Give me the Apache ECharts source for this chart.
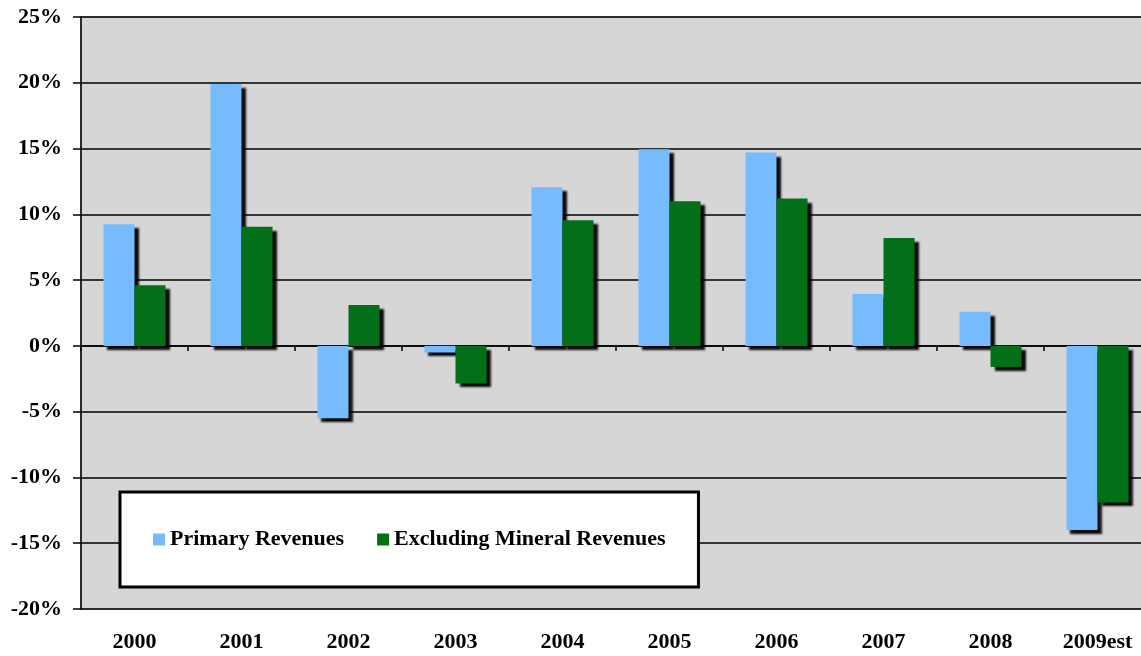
<!DOCTYPE html>
<html>
<head>
<meta charset="utf-8">
<script src="https://cdn.jsdelivr.net/npm/echarts@6/dist/echarts.min.js"></script>
<style>
html,body{margin:0;padding:0;background:#fff;}
#chart{width:1141px;height:656px;}
</style>
</head>
<body>
<div id="chart"></div>
<script>
var categories = ['2000','2001','2002','2003','2004','2005','2006','2007','2008','2009est'];
var primaryRevenues = [9.25, 19.9, -5.5, -0.5, 12.05, 14.95, 14.7, 3.95, 2.6, -14.0];
var excludingMineral = [4.6, 9.05, 3.1, -2.85, 9.55, 11.0, 11.2, 8.2, -1.6, -11.9];
var seriesNames = ['Primary Revenues', 'Excluding Mineral Revenues'];

var font = "'Liberation Serif', 'Times New Roman', serif";
var chart = echarts.init(document.getElementById('chart'), null, {renderer: 'canvas'});
var shadow = {shadowColor: 'rgba(0,0,0,0.95)', shadowBlur: 2, shadowOffsetX: 4, shadowOffsetY: 4};
chart.setOption({
  animation: false,
  backgroundColor: '#ffffff',
  grid: {left: 81, width: 1070, top: 17, bottom: 47, outerBoundsMode: 'none', containLabel: false,
         show: true, backgroundColor: '#d6d6d6', borderColor: '#999999', borderWidth: 1.5},
  legend: {
    left: 120, top: 492,
    data: seriesNames,
    itemWidth: 12, itemHeight: 12, itemGap: 33,
    icon: 'rect',
    backgroundColor: '#ffffff', borderColor: '#000000', borderWidth: 3,
    padding: [36.5, 33],
    textStyle: {fontFamily: font, fontWeight: 'bold', fontSize: 22, color: '#000'},
    z: 10
  },
  xAxis: [{
    type: 'category', data: categories, position: 'bottom',
    axisLine: {onZero: true, lineStyle: {color: '#000', width: 1.5}},
    axisTick: {show: true, length: 5, lineStyle: {color: '#000', width: 1.5}},
    axisLabel: {show: false},
    splitLine: {show: false}
  }, {
    type: 'category', data: categories, position: 'bottom',
    axisLine: {show: false, onZero: false},
    axisTick: {show: false},
    axisLabel: {margin: 22, fontFamily: font, fontWeight: 'bold', fontSize: 22, color: '#000'}
  }],
  yAxis: {
    type: 'value', min: -20, max: 25, interval: 5,
    axisLine: {show: true, lineStyle: {color: '#000', width: 1.5}},
    axisTick: {show: true, length: 8, lineStyle: {color: '#000', width: 1.5}},
    axisLabel: {margin: 19, formatter: '{value}%', fontFamily: font, fontWeight: 'bold', fontSize: 22, color: '#000'},
    splitLine: {show: true, lineStyle: {color: '#000', width: 1.5}}
  },
  series: [{
    name: seriesNames[0], type: 'bar', data: primaryRevenues, xAxisIndex: 0,
    barGap: '0%', barCategoryGap: '42%',
    itemStyle: Object.assign({color: '#77bbff'}, shadow)
  }, {
    name: seriesNames[1], type: 'bar', data: excludingMineral, xAxisIndex: 0,
    barGap: '0%', barCategoryGap: '42%',
    itemStyle: Object.assign({color: '#036f19'}, shadow)
  }]
});
</script>
</body>
</html>
